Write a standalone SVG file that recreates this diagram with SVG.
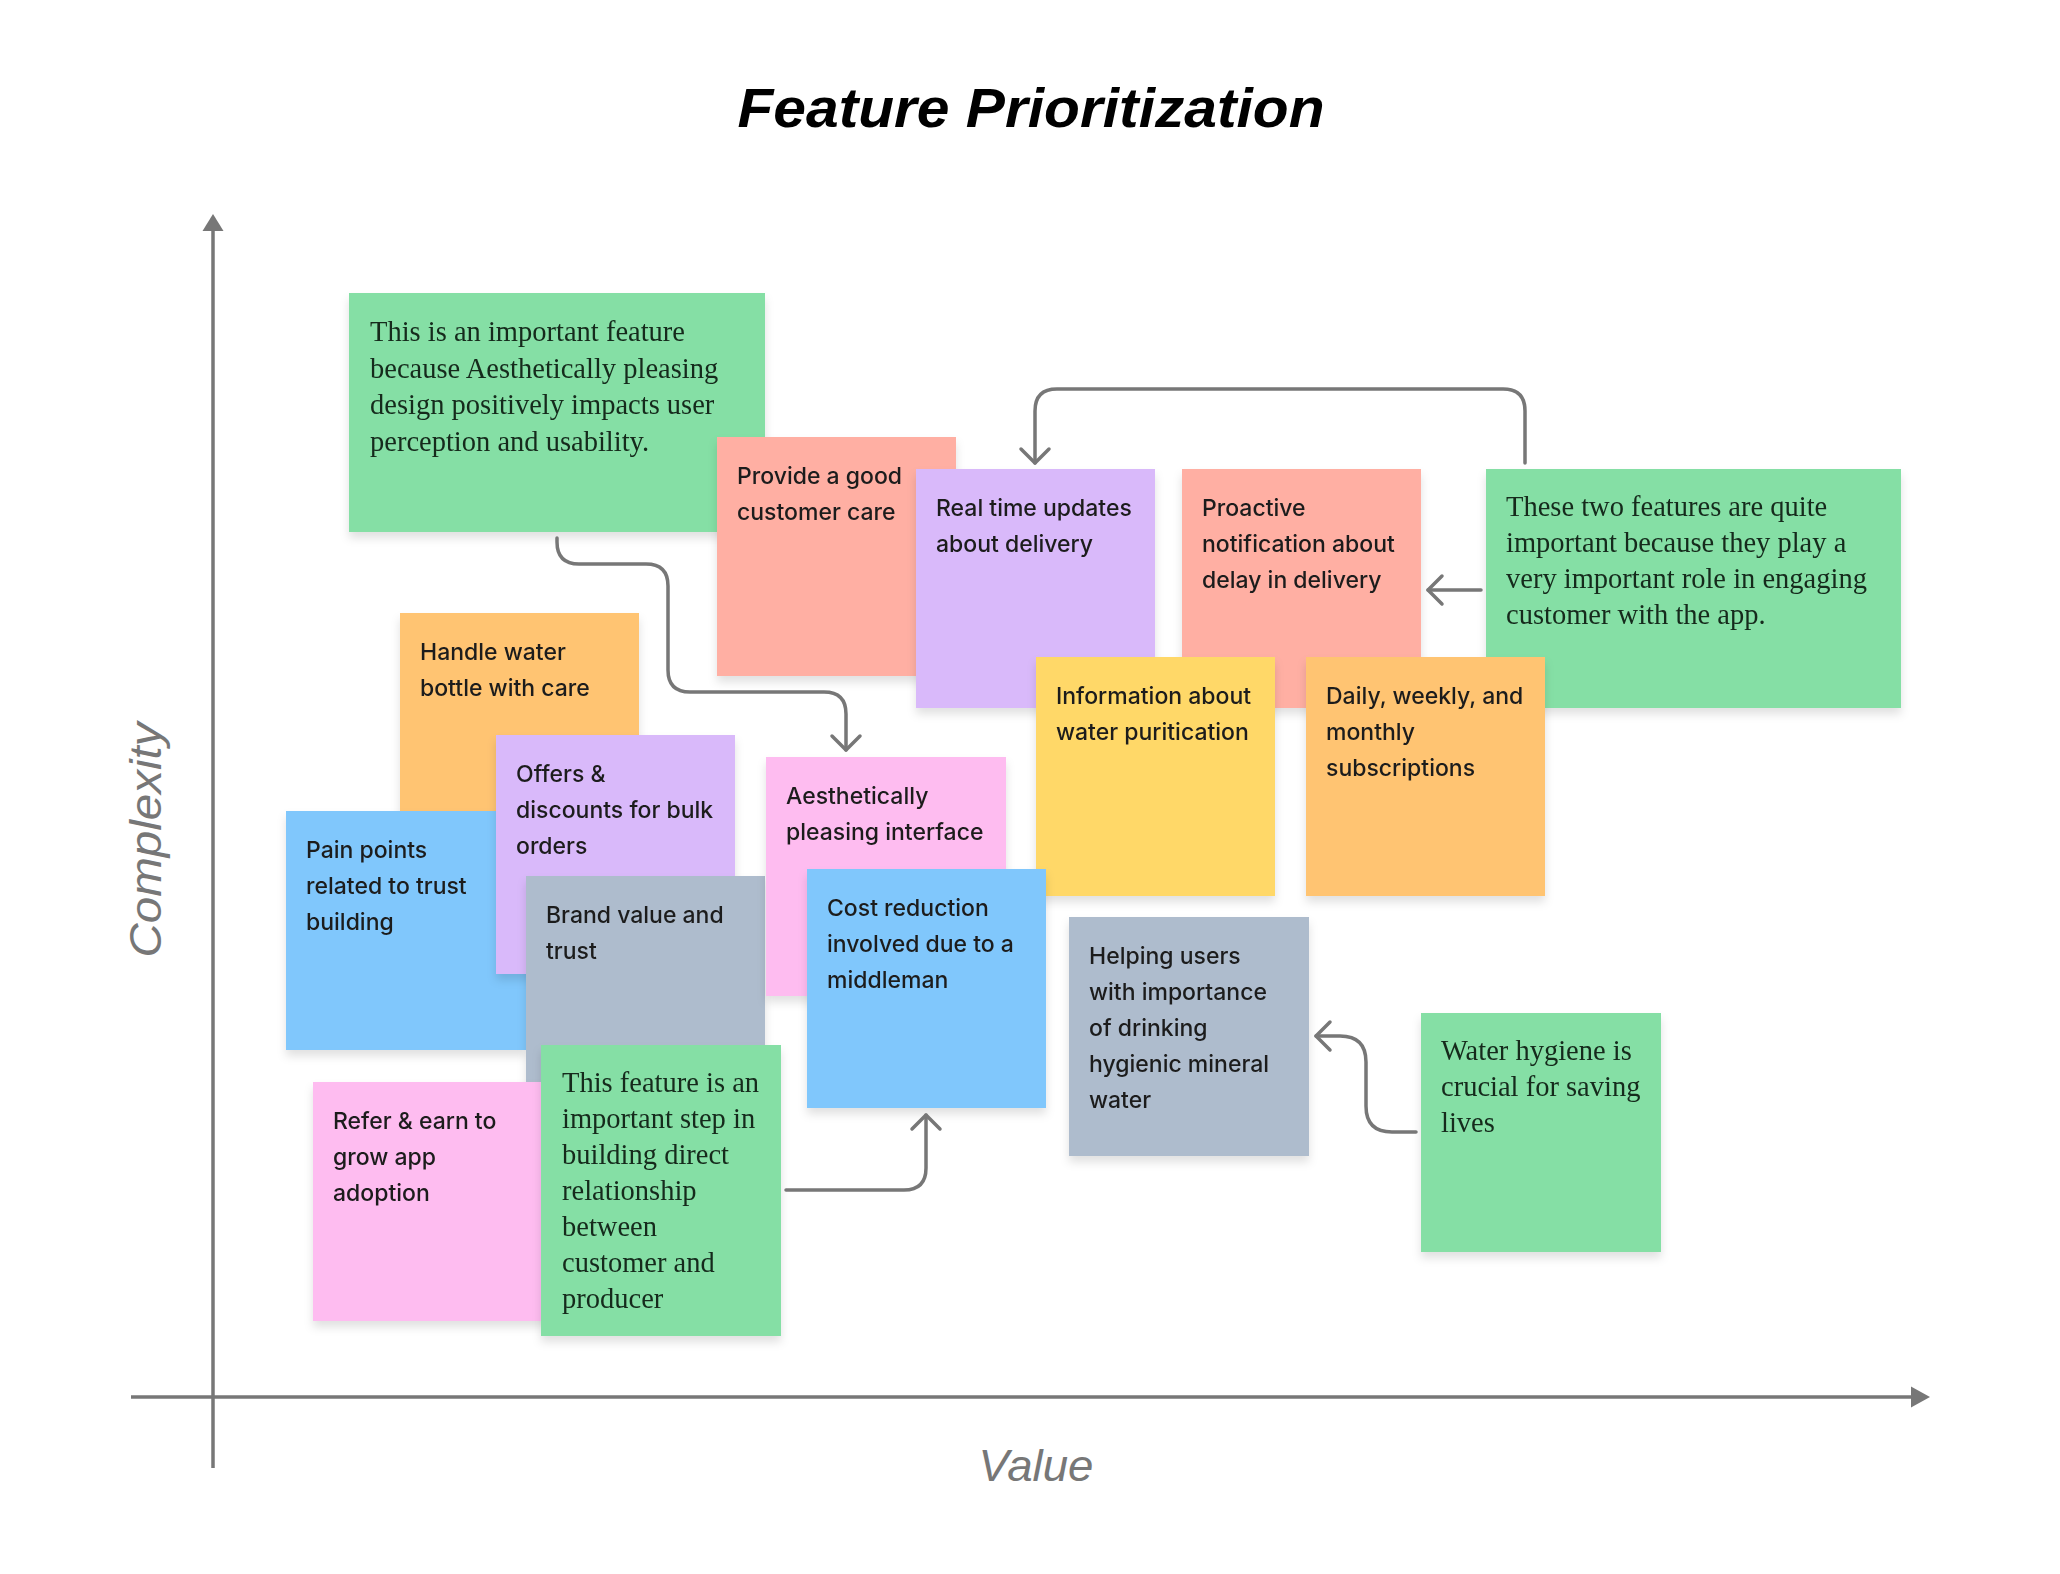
<svg xmlns="http://www.w3.org/2000/svg" width="2060" height="1574" viewBox="0 0 2060 1574">
<defs>
<filter id="sh" x="-10%" y="-10%" width="120%" height="130%">
<feDropShadow dx="0" dy="6" stdDeviation="5" flood-color="#000" flood-opacity="0.12"/>
</filter>
<marker id="chev" viewBox="-18 -18 22 36" refX="0" refY="0" markerWidth="22" markerHeight="36" orient="auto" markerUnits="userSpaceOnUse">
<path d="M -14 -14 L 0 0 L -14 14" fill="none" stroke="#777" stroke-width="3.5" stroke-linecap="round" stroke-linejoin="round"/>
</marker>
</defs>
<style>
.n{filter:url(#sh)}
.s{font-family:Inter,"Noto Sans","Liberation Sans",sans-serif;font-size:23px;font-weight:500;fill:#1e1e1e}
.f{font-family:"Liberation Serif","DejaVu Serif",serif;font-size:28.5px;fill:#152a1c}
.g{fill:#85DFA5}.r{fill:#FFAFA3}.p{fill:#D9B9FA}.o{fill:#FFC472}.y{fill:#FFD867}.b{fill:#80C7FC}.k{fill:#FEBCF0}.a{fill:#AEBCCD}
.c{fill:none;stroke:#777;stroke-width:3.5;stroke-linecap:round;stroke-linejoin:round}
.ax{stroke:#777;stroke-width:3.5}
.lbl{font-family:"Liberation Sans",sans-serif;font-style:italic;font-size:44px;fill:#777}
</style>
<rect width="2060" height="1574" fill="#fff"/>
<text x="1031" y="127" text-anchor="middle" font-family="Liberation Sans, sans-serif" font-weight="700" font-style="italic" font-size="56" fill="#000" textLength="587" lengthAdjust="spacingAndGlyphs">Feature Prioritization</text>
<g id="axes">
<line class="ax" x1="213" y1="229" x2="213" y2="1468"/>
<polygon points="213,214 202.5,231 223.5,231" fill="#777"/>
<line class="ax" x1="131" y1="1397" x2="1913" y2="1397"/>
<polygon points="1930,1397 1911,1386.5 1911,1407.5" fill="#777"/>
<text class="lbl" x="1036" y="1481" text-anchor="middle" textLength="115" lengthAdjust="spacingAndGlyphs">Value</text>
<text class="lbl" transform="translate(161,840) rotate(-90)" x="0" y="0" text-anchor="middle" textLength="235" lengthAdjust="spacingAndGlyphs">Complexity</text>
</g>
<g id="n1" class="n"><rect class="g" x="349" y="293" width="416" height="239"/>
<text class="f" x="370" y="341">This is an important feature</text><text class="f" x="370" y="377.5">because Aesthetically pleasing</text><text class="f" x="370" y="414">design positively impacts user</text><text class="f" x="370" y="450.5">perception and usability.</text></g>
<g id="n2" class="n"><rect class="r" x="717" y="437" width="239" height="239"/>
<text class="s" x="737" y="484">Provide a good</text><text class="s" x="737" y="520">customer care</text></g>
<g id="n3" class="n"><rect class="p" x="916" y="469" width="239" height="239"/>
<text class="s" x="936" y="516">Real time updates</text><text class="s" x="936" y="552">about delivery</text></g>
<g id="n4" class="n"><rect class="r" x="1182" y="469" width="239" height="239"/>
<text class="s" x="1202" y="516">Proactive</text><text class="s" x="1202" y="552">notification about</text><text class="s" x="1202" y="588">delay in delivery</text></g>
<g id="n5" class="n"><rect class="g" x="1486" y="469" width="415" height="239"/>
<text class="f" x="1506" y="516">These two features are quite</text><text class="f" x="1506" y="552">important because they play a</text><text class="f" x="1506" y="588">very important role in engaging</text><text class="f" x="1506" y="624">customer with the app.</text></g>
<g id="n6" class="n"><rect class="y" x="1036" y="657" width="239" height="239"/>
<text class="s" x="1056" y="704">Information about</text><text class="s" x="1056" y="740">water puritication</text></g>
<g id="n7" class="n"><rect class="o" x="1306" y="657" width="239" height="239"/>
<text class="s" x="1326" y="704">Daily, weekly, and</text><text class="s" x="1326" y="740">monthly</text><text class="s" x="1326" y="776">subscriptions</text></g>
<g id="n8" class="n"><rect class="o" x="400" y="613" width="239" height="239"/>
<text class="s" x="420" y="660">Handle water</text><text class="s" x="420" y="696">bottle with care</text></g>
<g id="n9" class="n"><rect class="b" x="286" y="811" width="240" height="239"/>
<text class="s" x="306" y="858">Pain points</text><text class="s" x="306" y="894">related to trust</text><text class="s" x="306" y="930">building</text></g>
<g id="n10" class="n"><rect class="p" x="496" y="735" width="239" height="239"/>
<text class="s" x="516" y="782">Offers &amp;</text><text class="s" x="516" y="818">discounts for bulk</text><text class="s" x="516" y="854">orders</text></g>
<g id="n11" class="n"><rect class="a" x="526" y="876" width="239" height="239"/>
<text class="s" x="546" y="923">Brand value and</text><text class="s" x="546" y="959">trust</text></g>
<g id="n12" class="n"><rect class="k" x="766" y="757" width="240" height="239"/>
<text class="s" x="786" y="804">Aesthetically</text><text class="s" x="786" y="840">pleasing interface</text></g>
<g id="n13" class="n"><rect class="b" x="807" y="869" width="239" height="239"/>
<text class="s" x="827" y="916">Cost reduction</text><text class="s" x="827" y="952">involved due to a</text><text class="s" x="827" y="988">middleman</text></g>
<g id="n14" class="n"><rect class="a" x="1069" y="917" width="240" height="239"/>
<text class="s" x="1089" y="964">Helping users</text><text class="s" x="1089" y="1000">with importance</text><text class="s" x="1089" y="1036">of drinking</text><text class="s" x="1089" y="1072">hygienic mineral</text><text class="s" x="1089" y="1108">water</text></g>
<g id="n15" class="n"><rect class="k" x="313" y="1082" width="239" height="239"/>
<text class="s" x="333" y="1129">Refer &amp; earn to</text><text class="s" x="333" y="1165">grow app</text><text class="s" x="333" y="1201">adoption</text></g>
<g id="n16" class="n"><rect class="g" x="541" y="1045" width="240" height="291"/>
<text class="f" x="562" y="1092">This feature is an</text><text class="f" x="562" y="1128">important step in</text><text class="f" x="562" y="1164">building direct</text><text class="f" x="562" y="1200">relationship</text><text class="f" x="562" y="1236">between</text><text class="f" x="562" y="1272">customer and</text><text class="f" x="562" y="1308">producer</text></g>
<g id="n17" class="n"><rect class="g" x="1421" y="1013" width="240" height="239"/>
<text class="f" x="1441" y="1060">Water hygiene is</text><text class="f" x="1441" y="1096">crucial for saving</text><text class="f" x="1441" y="1132">lives</text></g>
<g id="connectors">
<path class="c" marker-end="url(#chev)" d="M 557 538 L 557 542 Q 557 564 579 564 L 646 564 Q 668 564 668 586 L 668 670 Q 668 692 690 692 L 824 692 Q 846 692 846 714 L 846 750"/>
<path class="c" marker-end="url(#chev)" d="M 1525 463 L 1525 411 Q 1525 389 1503 389 L 1057 389 Q 1035 389 1035 411 L 1035 463"/>
<path class="c" marker-end="url(#chev)" d="M 1481 590 L 1428 590"/>
<path class="c" marker-end="url(#chev)" d="M 786 1190 L 904 1190 Q 926 1190 926 1168 L 926 1115"/>
<path class="c" marker-end="url(#chev)" d="M 1416 1132 L 1392 1132 Q 1366 1132 1366 1106 L 1366 1062 Q 1366 1036 1340 1036 L 1316 1036"/>
</g>
</svg>
